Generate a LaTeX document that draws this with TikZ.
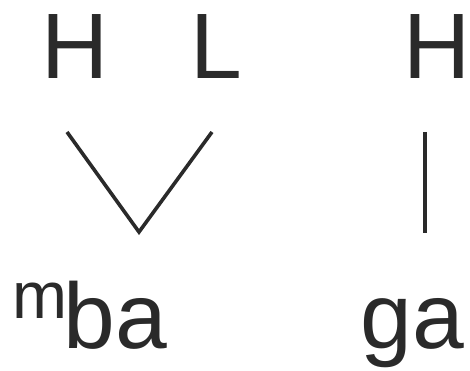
\documentclass[tikz,border=0pt]{standalone}
\usepackage{fontspec}
\setmainfont{Liberation Sans}
\definecolor{ink}{HTML}{2A2A2A}
\tikzset{
  tone/.style={inner sep=0pt, anchor=base, text=ink, font=\fontsize{93}{93}\selectfont},
  syl/.style={inner sep=0pt, anchor=base, text=ink, font=\fontsize{93}{93}\selectfont},
  pre/.style={inner sep=0pt, anchor=base, text=ink, font=\fontsize{66}{66}\selectfont},
  assoc/.style={draw=ink, line width=3.6pt}
}
\begin{document}
\begin{tikzpicture}[x=1pt, y=-1pt]
  \useasboundingbox (0,0) rectangle (470,371);
  % tones
  \node[tone] (H1) at (75.5,79) {H};
  \node[tone] (L1) at (216.7,79) {L};
  \node[tone] (H2) at (437.5,79) {H};
  % syllables
  \node[pre] (m) at (40,318) {m};
  \node[syl] (mba) at (115.5,348) {ba};
  \node[syl] (ga) at (412.5,348) {ga};
  % association lines
  \coordinate (H1a) at (67,132);
  \coordinate (L1a) at (212,132);
  \coordinate (H2a) at (425,132);
  \coordinate (mbaa) at (139,232);
  \coordinate (gaa) at (425,233);
  \draw[assoc] (H1a) -- (mbaa) -- (L1a);
  \draw[assoc] (H2a) -- (gaa);
\end{tikzpicture}
\end{document}
